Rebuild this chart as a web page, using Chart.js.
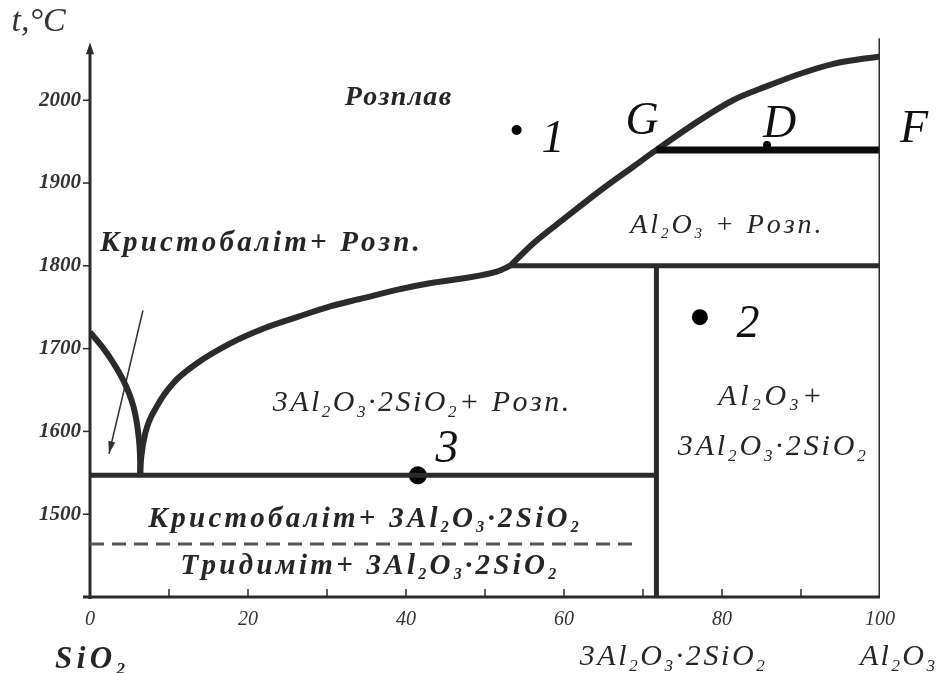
<!DOCTYPE html>
<html>
<head>
<meta charset="utf-8">
<script src="https://cdn.jsdelivr.net/npm/chart.js@4/dist/chart.umd.min.js"></script>
<style>
  html, body { margin: 0; padding: 0; background: #fff; }
  #wrap { width: 940px; height: 673px; }
</style>
</head>
<body>
<div id="wrap"><canvas id="diagram" width="940" height="673"></canvas></div>
<script>
// composition, % Al2O3  /  temperature, °C
const cristLiqX = [0, 2.1, 4.2, 5.5, 6.2, 6.4];
const cristLiqT = [1720, 1695, 1662, 1630, 1590, 1547];

const mulLiqX = [6.3, 6.5, 7.0, 8.44, 10.5, 13.5, 17.7, 21.9, 26.2, 30.4, 34.6, 38.8, 43.0, 47.3, 51.5, 53.2];
const mulLiqT = [1547, 1570, 1598, 1630, 1658, 1682, 1706, 1724, 1738, 1751, 1761, 1771, 1779, 1785, 1793, 1800];

const corLiqX = [53.2, 56.1, 60.3, 64.6, 68.8, 71.7, 77.2, 81.4, 85.7, 89.9, 94.1, 100];
const corLiqT = [1800, 1827, 1859, 1891, 1920, 1940, 1976, 2000, 2017, 2032, 2044, 2053];

const eutecticX = [0, 71.7];      const eutecticT = [1547, 1547];
const peritX = [53.2, 100];       const peritT = [1800, 1800];
const gfX = [71.7, 100];          const gfT = [1940, 1940];
const mulliteX = [71.7, 71.7];    const mulliteT = [1400, 1800];
const rightX = [100, 100];        const rightT = [1400, 2075];
const tridX = [0, 69.5];          const tridT = [1464, 1464];

const pointX = [54.0, 77.2, 41.5, 85.7];
const pointT = [1964, 1738, 1547, 1946];
const pointR = [5, 8, 9, 4];

const xTicks = [0, 20, 40, 60, 80, 100];
const xMinor = [10, 20, 30, 40, 50, 60, 70, 80, 90];
const yTicks = [1500, 1600, 1700, 1800, 1900, 2000];

const pts = (xs, ts) => xs.map((x, i) => ({ x, y: ts[i] }));
const LINE = "#2b2b2b";

function line(xs, ts, w, extra) {
  return Object.assign({
    data: pts(xs, ts), showLine: true, borderColor: LINE, borderWidth: w,
    pointRadius: 0, fill: false, tension: 0, borderCapStyle: "butt"
  }, extra || {});
}

// text labels: [text, comp, temp, size, bold, width]
const labels = [
  ["Розплав", 38.9, 2003, 28, true, 105],
  ["Кристобаліт+ Розп.", 21.4, 1827, 29, true, 318],
  ["Al_2O_3 + Розп.", 80.4, 1849, 28, false, 190],
  ["3Al_2O_3·2SiO_2+ Розп.", 41.8, 1634, 30, false, 295],
  ["Al_2O_3+", 86.1, 1642, 30, false, 104],
  ["3Al_2O_3·2SiO_2", 86.3, 1581, 30, false, 188],
  ["Кристобаліт+ 3Al_2O_3·2SiO_2", 34.6, 1494, 29, true, 430],
  ["Тридиміт+ 3Al_2O_3·2SiO_2", 35.2, 1437, 29, true, 375],
  ["SiO_2", 0, 1324, 31, true, 70],
  ["3Al_2O_3·2SiO_2", 73.7, 1327, 30, false, 185],
  ["Al_2O_3", 102.2, 1327, 30, false, 75]
];
const letters = [
  ["G", 69.9, 1974], ["D", 87.3, 1970], ["F", 104.3, 1964],
  ["1", 58.6, 1952], ["2", 83.3, 1729], ["3", 45.2, 1578]
];

function parseRich(s) {
  const segs = [];
  let buf = "";
  for (let i = 0; i < s.length; i++) {
    if (s[i] === "_" && i + 1 < s.length) {
      if (buf) segs.push({ t: buf, sub: false });
      buf = "";
      segs.push({ t: s[i + 1], sub: true });
      i++;
    } else buf += s[i];
  }
  if (buf) segs.push({ t: buf, sub: false });
  return segs;
}

function drawRich(ctx, s, cx, cy, size, bold, width, color) {
  const segs = parseRich(s);
  const fam = '"Liberation Serif", "DejaVu Serif", serif';
  const font = sub => `italic ${bold ? "bold " : ""}${sub ? Math.round(size * 0.55) : size}px ${fam}`;
  ctx.save();
  let w = 0, n = 0;
  segs.forEach(sg => { ctx.font = font(sg.sub); w += ctx.measureText(sg.t).width; n += sg.t.length; });
  let sp = width ? (width - w) / Math.max(1, n - 1) : 0;
  sp = Math.max(-1.5, sp);
  let x = cx - (w + sp * (n - 1)) / 2;
  ctx.fillStyle = color || "#1e1e1e";
  ctx.textBaseline = "middle";
  ctx.textAlign = "left";
  segs.forEach(sg => {
    ctx.font = font(sg.sub);
    for (const ch of sg.t) {
      ctx.fillText(ch, x, sg.sub ? cy + size * 0.3 : cy);
      x += ctx.measureText(ch).width + sp;
    }
  });
  ctx.restore();
}

const decor = {
  id: "decor",
  beforeDatasetsDraw(chart) {
    const { ctx, scales: { x, y } } = chart;
    const x0 = x.getPixelForValue(0), y0 = y.getPixelForValue(1400);
    ctx.save();
    ctx.strokeStyle = LINE;
    ctx.fillStyle = LINE;
    ctx.lineWidth = 3;
    // y axis with arrow
    const yTop = y.getPixelForValue(2070);
    ctx.beginPath(); ctx.moveTo(x0, y0 + 2); ctx.lineTo(x0, yTop + 8); ctx.stroke();
    ctx.beginPath(); ctx.moveTo(x0, yTop); ctx.lineTo(x0 - 4, yTop + 12); ctx.lineTo(x0 + 4, yTop + 12); ctx.closePath(); ctx.fill();
    // x axis
    ctx.beginPath(); ctx.moveTo(x0 - 7, y0); ctx.lineTo(x.getPixelForValue(100), y0); ctx.stroke();
    // ticks
    ctx.lineWidth = 1.5;
    yTicks.forEach(t => {
      const py = y.getPixelForValue(t);
      ctx.beginPath(); ctx.moveTo(x0 - 7, py); ctx.lineTo(x0, py); ctx.stroke();
    });
    xMinor.forEach(c => {
      const px = x.getPixelForValue(c);
      ctx.beginPath(); ctx.moveTo(px, y0); ctx.lineTo(px, y0 - 8); ctx.stroke();
    });
    // tick labels
    ctx.fillStyle = "#333";
    ctx.font = 'italic bold 21px "Liberation Serif", serif';
    ctx.textAlign = "right"; ctx.textBaseline = "middle";
    yTicks.forEach(t => ctx.fillText(String(t), x0 - 9, y.getPixelForValue(t)));
    ctx.font = 'italic 20px "Liberation Serif", serif';
    ctx.textAlign = "center";
    xTicks.forEach(c => ctx.fillText(String(c), x.getPixelForValue(c), y0 + 23));
    // arrow pointing into the cristobalite field
    const ax1 = x.getPixelForValue(6.7), ay1 = y.getPixelForValue(1746);
    const ax2 = x.getPixelForValue(2.4), ay2 = y.getPixelForValue(1573);
    ctx.strokeStyle = "#333"; ctx.lineWidth = 1.5;
    ctx.beginPath(); ctx.moveTo(ax1, ay1); ctx.lineTo(ax2, ay2); ctx.stroke();
    const ang = Math.atan2(ay2 - ay1, ax2 - ax1);
    ctx.beginPath();
    ctx.moveTo(ax2, ay2);
    ctx.lineTo(ax2 - 13 * Math.cos(ang - 0.28), ay2 - 13 * Math.sin(ang - 0.28));
    ctx.lineTo(ax2 - 13 * Math.cos(ang + 0.28), ay2 - 13 * Math.sin(ang + 0.28));
    ctx.closePath(); ctx.fillStyle = "#333"; ctx.fill();
    ctx.restore();
  },
  afterDatasetsDraw(chart) {
    const { ctx, scales: { x, y } } = chart;
    labels.forEach(l => drawRich(ctx, l[0], x.getPixelForValue(l[1]), y.getPixelForValue(l[2]), l[3], l[4], l[5], "#262626"));
    ctx.save();
    ctx.fillStyle = "#111";
    ctx.font = 'italic 46px "Liberation Serif", serif';
    ctx.textAlign = "center"; ctx.textBaseline = "middle";
    letters.forEach(l => ctx.fillText(l[0], x.getPixelForValue(l[1]), y.getPixelForValue(l[2])));
    ctx.font = 'italic 34px "Liberation Serif", serif';
    ctx.fillStyle = "#333";
    ctx.fillText("t,°C", x.getPixelForValue(-6.5), y.getPixelForValue(2094));
    ctx.restore();
  }
};

new Chart(document.getElementById("diagram"), {
  type: "scatter",
  data: {
    datasets: [
      line(rightX, rightT, 3),
      line(mulliteX, mulliteT, 5),
      line(eutecticX, eutecticT, 5),
      line(peritX, peritT, 5),
      line(gfX, gfT, 7, { borderColor: "#0a0a0a" }),
      line(tridX, tridT, 3, { borderColor: "#555", borderDash: [14, 8] }),
      line(cristLiqX, cristLiqT, 6, { tension: 0.4 }),
      line(mulLiqX, mulLiqT, 6, { cubicInterpolationMode: "monotone" }),
      line(corLiqX, corLiqT, 6, { cubicInterpolationMode: "monotone" }),
      {
        data: pts(pointX, pointT), showLine: false,
        pointRadius: pointR, pointBackgroundColor: "#000", pointBorderWidth: 0
      }
    ]
  },
  options: {
    responsive: false,
    animation: false,
    layout: { padding: { left: 90, right: 60, top: 34, bottom: 76 } },
    plugins: { legend: { display: false }, tooltip: { enabled: false } },
    scales: {
      x: { type: "linear", min: 0, max: 100, display: false },
      y: { type: "linear", min: 1400, max: 2080, display: false }
    }
  },
  plugins: [decor]
});
</script>
</body>
</html>
